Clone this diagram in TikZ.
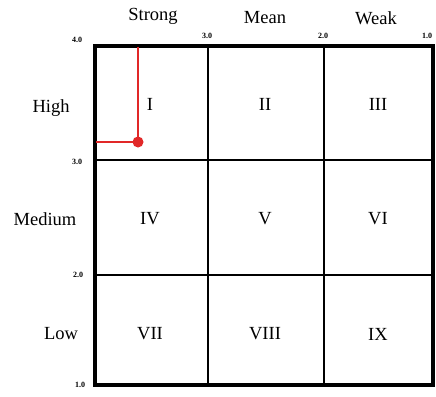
\documentclass[tikz,border=0pt]{standalone}
\usepackage{fontspec}
\setmainfont{Liberation Serif}
\definecolor{posred}{RGB}{225,40,40}
\tikzset{
  lbl/.style={font=\fontsize{18.5}{20}\selectfont, inner sep=0pt},
  tck/.style={font=\bfseries\fontsize{8}{9}\selectfont, inner sep=0pt},
}
\begin{document}
\begin{tikzpicture}[x=1pt,y=-1pt]
\useasboundingbox (0,0) rectangle (436,396);
% grid
\draw[line width=1.3pt] (208,46) -- (208,385);
\draw[line width=1.3pt] (324,46) -- (324,385);
\draw[line width=1.3pt] (95,160) -- (433,160);
\draw[line width=1.3pt] (95,275) -- (433,275);
\draw[line width=3.5pt] (95,46) rectangle (433,385);
% column and row titles
\node[lbl] (strong) at (153,16){Strong};
\node[lbl] (mean) at (265,18){Mean};
\node[lbl] (weak) at (376,18){Weak};
\node[lbl] (high) at (51,108){High};
\node[lbl] (medium) at (45,219){Medium};
\node[lbl] (low) at (61,334){Low};
% scale
\node[tck] (t40) at (77,40){4.0};
\node[tck] (t30) at (207,36){3.0};
\node[tck] (t20) at (323,36){2.0};
\node[tck] (t10) at (427,36){1.0};
\node[tck] (l30) at (77,162){3.0};
\node[tck] (l20) at (78,275){2.0};
\node[tck] (l10) at (80,385){1.0};
% cells
\node[lbl] (c1) at (150,104){I};
\node[lbl] (c2) at (265,104){II};
\node[lbl] (c3) at (378,104){III};
\node[lbl] (c4) at (150,219){IV};
\node[lbl] (c5) at (265,219){V};
\node[lbl] (c6) at (378,219){VI};
\node[lbl] (c7) at (150,334){VII};
\node[lbl] (c8) at (265,334){VIII};
\node[lbl] (c9) at (378,334){IX};
% position
\coordinate (ptop) at (138,47);
\coordinate (pleft) at (96,142);
\node[circle, fill=posred, inner sep=0pt, minimum size=11pt] (pos) at (138,142){};
\draw[posred, line width=1.6pt] (ptop) -- (pos.center);
\draw[posred, line width=1.6pt] (pleft) -- (pos.center);
\end{tikzpicture}
\end{document}
